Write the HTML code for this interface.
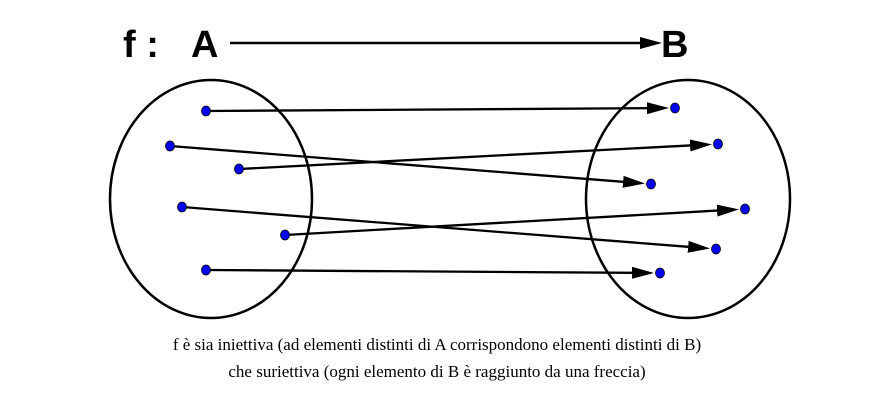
<!DOCTYPE html>
<html><head><meta charset="utf-8"><style>
html,body{margin:0;padding:0;background:#fff;}
svg{display:block;}
</style></head><body>
<svg width="870" height="401" viewBox="0 0 870 401">
<defs>
<marker id="ah2" markerWidth="22" markerHeight="12" refX="0" refY="6" orient="auto" markerUnits="userSpaceOnUse">
<path d="M0,0 L22,6 L0,12 z" fill="#000"/>
</marker>
</defs>
<g font-family="'Liberation Sans', sans-serif" font-weight="bold" font-size="38" fill="#000">
<text x="123" y="57">f :</text>
<text x="191" y="57">A</text>
<text x="661" y="57">B</text>
</g>
<line x1="230" y1="43" x2="640" y2="43" stroke="#000" stroke-width="2.5" marker-end="url(#ah2)"/>
<ellipse cx="211" cy="199" rx="101" ry="119" fill="none" stroke="#000" stroke-width="2.5"/>
<ellipse cx="688" cy="199" rx="102" ry="119" fill="none" stroke="#000" stroke-width="2.5"/>
<g id="arrows"></g>
<g font-family="'Liberation Serif', serif" font-size="17" fill="#000" text-anchor="middle">
<text x="437" y="350">f è sia iniettiva (ad elementi distinti di A corrispondono elementi distinti di B)</text>
<text x="437" y="377">che suriettiva (ogni elemento di B è raggiunto da una freccia)</text>
</g>
</svg>
<script>
const domainX=[206,170,239,182,285,206];
const domainY=[111,146,169,207,235,270];
const codomainX=[675,651,718,716,745,660];
const codomainY=[108,184,144,249,209,273];
const ns="http://www.w3.org/2000/svg";
const g=document.getElementById('arrows');
for(let i=0;i<domainX.length;i++){
  const x1=domainX[i],y1=domainY[i],x2=codomainX[i],y2=codomainY[i];
  const dx=x2-x1,dy=y2-y1,L=Math.hypot(dx,dy);
  const sx=x2-dx/L*28,sy=y2-dy/L*28;
  const ln=document.createElementNS(ns,'line');
  ln.setAttribute('x1',x1);ln.setAttribute('y1',y1);ln.setAttribute('x2',sx);ln.setAttribute('y2',sy);
  ln.setAttribute('stroke','#000');ln.setAttribute('stroke-width','2.3');
  ln.setAttribute('marker-end','url(#ah2)');
  
  
  g.appendChild(ln);
  [[x1,y1],[x2,y2]].forEach((p,j)=>{
    const c=document.createElementNS(ns,'ellipse');
    c.setAttribute('cx',p[0]);c.setAttribute('cy',p[1]);c.setAttribute('rx',4.5);c.setAttribute('ry',5);
    c.setAttribute('fill','#0000ee');c.setAttribute('stroke','#000');c.setAttribute('stroke-width','0.8');
    
    
    g.appendChild(c);
  });
}
</script>
</body></html>
